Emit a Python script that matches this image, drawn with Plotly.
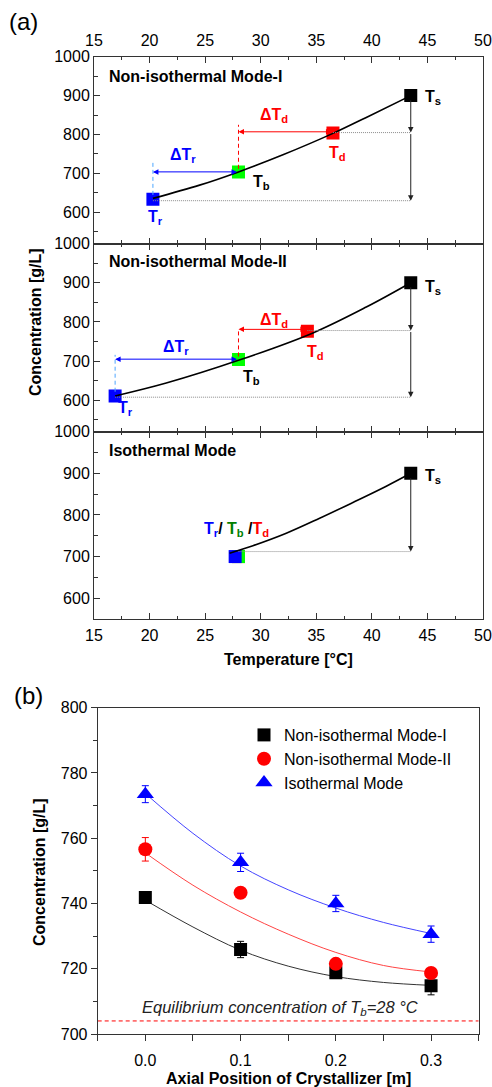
import plotly.graph_objects as go

FONT = "Liberation Sans, Arial, sans-serif"

# ---------------- Panel (a) data ----------------
# state points in order: T_r, T_b, T_d, T_s
modeI_T = [20.3, 28.0, 36.5, 43.5]
modeI_C = [634, 704, 804, 900]
modeII_T = [16.9, 28.0, 34.2, 43.5]
modeII_C = [611, 704, 776, 900]
# isothermal: T_d, T_b, T_r overlap (drawn red, green, blue), then T_s
iso_T = [28.0, 28.0, 27.7, 43.5]
iso_C = [700, 700, 700, 900]
point_colors = ["#0000FF", "#00FF00", "#FF0000", "#000000"]
iso_colors = ["#FF0000", "#00FF00", "#0000FF", "#000000"]

# solubility curves as traced in each panel
curveI_T = [20.3, 24.5, 28.0, 32.0, 36.5, 39.5, 43.5]
curveI_C = [636, 670, 704, 748, 803, 844, 900]
curveII_T = [16.9, 21.5, 28.0, 34.7, 39.5, 43.5]
curveII_C = [611, 644, 702, 772, 838, 900]
curveIso_T = [27.2, 29.3, 32.3, 35.3, 38.3, 41.3, 43.5]
curveIso_C = [708, 726, 756, 792, 830, 869, 900]

# guide levels
modeI_guides = dict(dTr_level=704, Tr_dash=(645, 730), Tb_dash=(712, 825),
                    dTd_level=807, d_hi=805, d_lo=630)
modeII_guides = dict(dTr_level=705, Tr_dash=(622, 716), Tb_dash=(712, 781),
                     dTd_level=781, d_hi=778, d_lo=608)
iso_guides = dict(d_lo=712)

# ---------------- Panel (b) data ----------------
pos = [0.0, 0.1, 0.2, 0.3]
modeI_b = [741.8, 725.9, 718.8, 714.8]
modeI_b_err = [1.0, 2.5, 1.5, 2.8]
modeII_b = [756.6, 743.3, 721.5, 718.7]
modeII_b_err = [3.6, 1.0, 1.5, 1.2]
iso_b = [773.5, 752.6, 740.0, 730.6]
iso_b_err = [2.6, 2.8, 2.5, 2.5]

fit_x = [0.0, 0.05, 0.1, 0.15, 0.2, 0.25, 0.3]
fitI = [741.0, 732.8, 725.7, 720.8, 717.6, 715.8, 714.9]
fitII = [755.5, 745.6, 737.4, 730.6, 725.0, 721.0, 719.0]
fitIso = [773.7, 761.5, 751.5, 744.2, 738.6, 734.2, 730.8]
equil_C = 704

fig = go.Figure()

# ---- panel (a) traces ----
panels = [
    ("x", "y", modeI_T, modeI_C, point_colors, curveI_T, curveI_C),
    ("x2", "y2", modeII_T, modeII_C, point_colors, curveII_T, curveII_C),
    ("x3", "y3", iso_T, iso_C, iso_colors, curveIso_T, curveIso_C),
]
for xa, ya, T, C, cols, cT, cC in panels:
    fig.add_trace(go.Scatter(x=T, y=C, xaxis=xa, yaxis=ya, mode="markers",
                             marker=dict(symbol="square", size=13, color=cols, line=dict(width=0)),
                             showlegend=False, hoverinfo="skip"))
    fig.add_trace(go.Scatter(x=cT, y=cC, xaxis=xa, yaxis=ya, mode="lines",
                             line=dict(color="black", width=1.6, shape="spline", smoothing=1.0),
                             showlegend=False, hoverinfo="skip"))

DOT = dict(color="#8c8c8c", width=1, dash="1px,1px")

def guides(xa, ya, T, C, g, full=True):
    Tr, Tb, Td, Ts = T
    Cs = C[3]
    if full:
        fig.add_trace(go.Scatter(x=[Tr, Tr], y=list(g["Tr_dash"]), xaxis=xa, yaxis=ya, mode="lines",
                                 line=dict(color="#4da6ff", width=1, dash="4px,3px"),
                                 showlegend=False, hoverinfo="skip"))
        fig.add_trace(go.Scatter(x=[Tb, Tb], y=list(g["Tb_dash"]), xaxis=xa, yaxis=ya, mode="lines",
                                 line=dict(color="#FF0000", width=1, dash="4px,3px"),
                                 showlegend=False, hoverinfo="skip"))
        fig.add_trace(go.Scatter(x=[Td, Ts], y=[g["d_hi"], g["d_hi"]], xaxis=xa, yaxis=ya, mode="lines",
                                 line=DOT, showlegend=False, hoverinfo="skip"))
        lo_start = Tr
    else:
        lo_start = Tb
    fig.add_trace(go.Scatter(x=[lo_start, Ts], y=[g["d_lo"], g["d_lo"]], xaxis=xa, yaxis=ya, mode="lines",
                             line=DOT, showlegend=False, hoverinfo="skip"))
    arrows = []
    ref = dict(xref=xa, yref=ya, axref=xa, ayref=ya, text="", showarrow=True,
               arrowhead=2, arrowsize=1.1, arrowwidth=1, standoff=0, startstandoff=0)
    if full:
        arrows.append(dict(x=Tr, y=g["dTr_level"], ax=Tb, ay=g["dTr_level"], arrowcolor="#0000FF",
                           arrowside="end+start", **ref))
        arrows.append(dict(x=Tb, y=g["dTd_level"], ax=Td, ay=g["dTd_level"], arrowcolor="#FF0000",
                           arrowside="end+start", **ref))
        arrows.append(dict(x=Ts, y=g["d_hi"], ax=Ts, ay=Cs - 8, arrowcolor="#222222", **ref))
        arrows.append(dict(x=Ts, y=g["d_lo"], ax=Ts, ay=g["d_hi"], arrowcolor="#222222", **ref))
    else:
        arrows.append(dict(x=Ts, y=g["d_lo"], ax=Ts, ay=Cs - 8, arrowcolor="#222222", **ref))
    return arrows

annotations = []
annotations += guides("x", "y", modeI_T, modeI_C, modeI_guides)
annotations += guides("x2", "y2", modeII_T, modeII_C, modeII_guides)
annotations += guides("x3", "y3", iso_T, iso_C, iso_guides, full=False)

def lab(xa, ya, x, y, text, color="black", xanchor="center", size=16):
    return dict(xref=xa, yref=ya, x=x, y=y, text=text, showarrow=False, xanchor=xanchor,
                yanchor="middle", font=dict(family=FONT, size=size, color=color))

B = "#0000FF"; R = "#FF0000"
annotations += [
    lab("x", "y", 16.2, 949, "<b>Non-isothermal Mode-I</b>", xanchor="left"),
    lab("x", "y", 44.6, 895, "<b>T<sub>s</sub></b>", xanchor="left"),
    lab("x", "y", 31.2, 848, "<b>ΔT<sub>d</sub></b>", R),
    lab("x", "y", 36.9, 752, "<b>T<sub>d</sub></b>", R),
    lab("x", "y", 23.0, 747, "<b>ΔT<sub>r</sub></b>", B),
    lab("x", "y", 30.1, 677, "<b>T<sub>b</sub></b>"),
    lab("x", "y", 20.5, 587, "<b>T<sub>r</sub></b>", B),

    lab("x2", "y2", 16.2, 953, "<b>Non-isothermal Mode-II</b>", xanchor="left"),
    lab("x2", "y2", 44.6, 888, "<b>T<sub>s</sub></b>", xanchor="left"),
    lab("x2", "y2", 31.2, 803, "<b>ΔT<sub>d</sub></b>", R),
    lab("x2", "y2", 34.9, 722, "<b>T<sub>d</sub></b>", R),
    lab("x2", "y2", 22.4, 736, "<b>ΔT<sub>r</sub></b>", B),
    lab("x2", "y2", 29.2, 657, "<b>T<sub>b</sub></b>"),
    lab("x2", "y2", 17.8, 578, "<b>T<sub>r</sub></b>", B),

    lab("x3", "y3", 16.2, 956, "<b>Isothermal Mode</b>", xanchor="left"),
    lab("x3", "y3", 44.6, 893, "<b>T<sub>s</sub></b>", xanchor="left"),
    lab("x3", "y3", 27.8, 765,
        "<b><span style='color:#0000FF'>T<sub>r</sub></span>/ "
        "<span style='color:#008000'>T<sub>b</sub></span> /"
        "<span style='color:#FF0000'>T<sub>d</sub></span></b>"),
]

# ---- panel (b) traces ----
for fy, col in [(fitI, "#333333"), (fitII, "#FF4444"), (fitIso, "#4444FF")]:
    fig.add_trace(go.Scatter(x=fit_x, y=fy, xaxis="x4", yaxis="y4", mode="lines",
                             line=dict(color=col, width=1, shape="spline", smoothing=1.0),
                             showlegend=False, hoverinfo="skip"))
fig.add_trace(go.Scatter(x=[-0.05, 0.35], y=[equil_C, equil_C], xaxis="x4", yaxis="y4", mode="lines",
                         line=dict(color="#FF0000", width=1, dash="4px,3px"),
                         showlegend=False, hoverinfo="skip"))
for name, yv, err, sym, size, col in [
    ("Non-isothermal Mode-I", modeI_b, modeI_b_err, "square", 13, "#000000"),
    ("Non-isothermal Mode-II", modeII_b, modeII_b_err, "circle", 14, "#FF0000"),
    ("Isothermal Mode", iso_b, iso_b_err, "triangle-up", 15, "#0000FF"),
]:
    fig.add_trace(go.Scatter(x=pos, y=yv, xaxis="x4", yaxis="y4", mode="markers", name=name,
                             marker=dict(symbol=sym, size=size, color=col, line=dict(width=0)),
                             error_y=dict(type="data", array=err, color=col, thickness=1, width=3.5)))

def ptext(px, py, text, size=16, angle=0):
    return dict(xref="paper", yref="paper", x=px / 492, y=1 - py / 1087, text=text,
                showarrow=False, xanchor="center", yanchor="middle", textangle=angle,
                font=dict(family=FONT, size=size, color="black"))

annotations += [
    dict(xref="x4", yref="y4", x=0.1414, y=708, text="<i>Equilibrium concentration of T<sub>b</sub>=28 °C</i>",
         showarrow=False, xanchor="center", yanchor="middle",
         font=dict(family=FONT, size=16.5, color="#222222")),
    ptext(23, 22, "(a)", size=24),
    ptext(28, 695, "(b)", size=24),
    ptext(288, 659, "<b>Temperature [°C]</b>"),
    ptext(35, 322, "<b>Concentration [g/L]</b>", angle=-90),
    ptext(288, 1078, "<b>Axial Position of Crystallizer [m]</b>"),
    ptext(39, 872, "<b>Concentration [g/L]</b>", angle=-90),
]

tickfont = dict(family=FONT, size=16, color="black")
AX = "#333333"
xa_dom = [94 / 492, 483 / 492]

def xa_a(anchor, side, show, standoff=0):
    return dict(domain=xa_dom, anchor=anchor, range=[15, 50], tick0=15, dtick=5, side=side,
                showticklabels=show, ticks="inside", ticklen=6, tickwidth=1, tickcolor=AX,
                minor=dict(dtick=2.5, tick0=15, ticks="inside", ticklen=3.5, tickcolor=AX),
                showline=True, linecolor=AX, linewidth=1, mirror="allticks", automargin=False,
                showgrid=False, zeroline=False, tickfont=tickfont, ticklabelstandoff=standoff)

def ya_a(anchor, dom, rng):
    return dict(domain=dom, anchor=anchor, range=rng, tick0=0, dtick=100,
                ticks="inside", ticklen=6, tickwidth=1, tickcolor=AX,
                minor=dict(dtick=50, tick0=0, ticks="inside", ticklen=3.5, tickcolor=AX),
                showline=True, linecolor=AX, linewidth=1, mirror=True, automargin=False,
                showgrid=False, zeroline=False, tickfont=tickfont)

fig.update_layout(
    width=492, height=1087, margin=dict(l=0, r=0, t=0, b=0, autoexpand=False),
    paper_bgcolor="white", plot_bgcolor="white",
    font=dict(family=FONT, size=16, color="black"),
    xaxis=xa_a("y", "top", True, standoff=3),
    yaxis=ya_a("x", [1 - 243.5 / 1087, 1 - 56.7 / 1087], [520, 1000]),
    xaxis2=xa_a("y2", "bottom", False),
    yaxis2=ya_a("x2", [1 - 431.7 / 1087, 1 - 243.5 / 1087], [520, 1000]),
    xaxis3=xa_a("y3", "bottom", True, standoff=2),
    yaxis3=ya_a("x3", [1 - 619 / 1087, 1 - 431.7 / 1087], [550, 1000]),
    xaxis4=dict(domain=[97.7 / 492, 478.7 / 492], anchor="y4", range=[-0.05, 0.35],
                tickvals=pos, ticktext=["0.0", "0.1", "0.2", "0.3"],
                ticks="outside", ticklen=6, tickwidth=1, tickcolor=AX,
                minor=dict(dtick=0.05, tick0=0, ticks="outside", ticklen=6, tickcolor=AX),
                showline=True, linecolor=AX, linewidth=1, mirror=True, automargin=False,
                showgrid=False, zeroline=False, tickfont=tickfont, ticklabelstandoff=6),
    yaxis4=dict(domain=[1 - 1034 / 1087, 1 - 707.7 / 1087], anchor="x4", range=[700, 800],
                tick0=700, dtick=20, ticks="outside", ticklen=6, tickwidth=1, tickcolor=AX,
                minor=dict(dtick=10, tick0=700, ticks="outside", ticklen=3.5, tickcolor=AX),
                showline=True, linecolor=AX, linewidth=1, mirror=True, automargin=False,
                showgrid=False, zeroline=False, tickfont=tickfont),
    legend=dict(x=244 / 492, y=1 - 718 / 1087, xanchor="left", yanchor="top",
                bgcolor="rgba(0,0,0,0)", font=dict(family=FONT, size=16, color="black"),
                tracegroupgap=0),
    annotations=annotations,
)

fig.write_html("out.html")
